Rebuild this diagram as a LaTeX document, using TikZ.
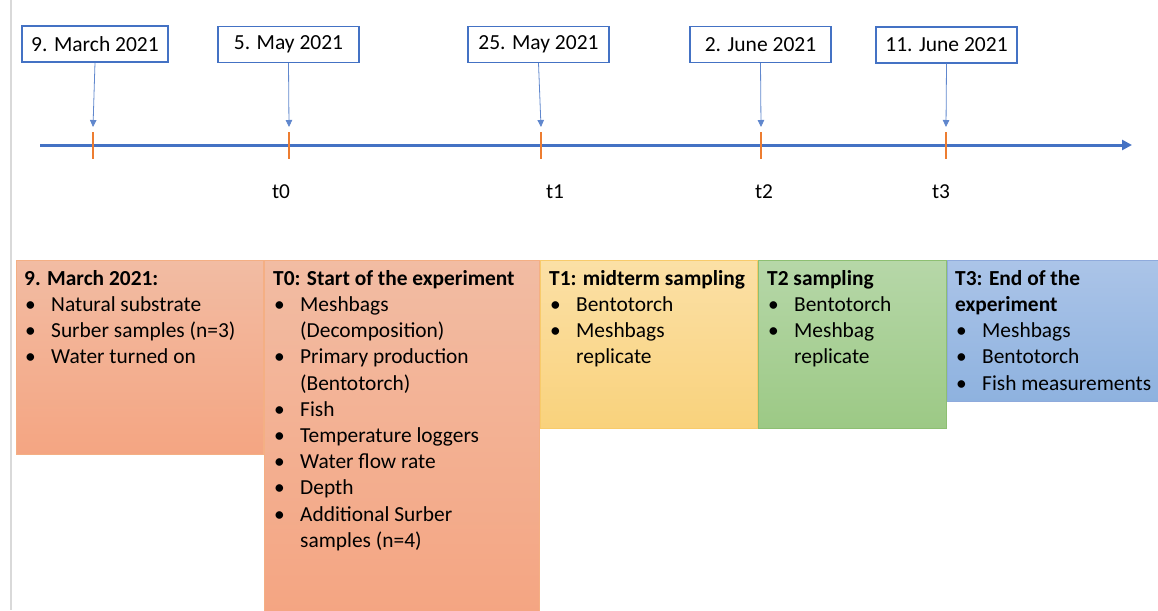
\documentclass[tikz,border=0pt]{standalone}
\usepackage{fontspec}
\setmainfont{Carlito}
\usetikzlibrary{arrows.meta,positioning}

\definecolor{axisblue}{HTML}{4472C4}
\definecolor{tickorange}{HTML}{ED7D31}
\definecolor{orangetop}{HTML}{F2BCA3}
\definecolor{orangebot}{HTML}{F4A582}
\definecolor{orangeline}{HTML}{F4AF84}
\definecolor{yellowtop}{HTML}{FBE0A6}
\definecolor{yellowbot}{HTML}{F9D27C}
\definecolor{yellowline}{HTML}{F8CB6B}
\definecolor{greentop}{HTML}{B6D7A8}
\definecolor{greenbot}{HTML}{9CC985}
\definecolor{greenline}{HTML}{8DBF72}
\definecolor{bluetop}{HTML}{ABC4E8}
\definecolor{bluebot}{HTML}{8EB2DF}
\definecolor{blueline}{HTML}{8FAADC}

\newcommand{\bul}{\makebox[27pt][l]{\hspace*{1pt}\textbullet}}
\newcommand{\ind}{\makebox[27pt]{}}

\begin{document}
\begin{tikzpicture}[x=1pt,y=-1pt,
    datebox/.style={draw=axisblue,line width=1.1pt,minimum width=141pt,
      minimum height=36pt,inner sep=0pt,font=\fontsize{21.5}{26}\selectfont},
    datearrow/.style={axisblue!85,line width=0.8pt,-{Triangle[width=6.5pt,length=7pt]}},
    tickmark/.style={tickorange,line width=1.3pt},
    tlabel/.style={font=\fontsize{21.3}{26}\selectfont},
    phase/.style={anchor=north west,inner sep=0pt,line width=0.9pt},
    phasetext/.style={anchor=north west,inner sep=0pt,align=left,
      font=\fontsize{21.4}{26.2}\selectfont}]
  \useasboundingbox (0,0) rectangle (1158,610);
  % 0) page edge on the left
  \draw[black!15,line width=1.5pt] (11,0) -- (11,610);
  % 1) time axis with its ticks
  \coordinate (axstart) at (40,145);
  \coordinate (axend) at (1132,145);
  \draw[axisblue,line width=3pt,-{Triangle[width=10pt,length=10pt]}] (axstart) -- (axend);
  \foreach \name/\x in {m/93,a/289,b/541,c/761,d/946}{
    \draw[tickmark] (\x,132) -- (\x,159);
    \coordinate (tip\name) at (\x,127);
  }
  % 2) dates above the axis
  \node[datebox,minimum width=146pt] (dm) at (95,44) {9. March 2021};
  \node[datebox] (da) at (288.5,44.5) {5. May 2021};
  \node[datebox] (db) at (538.5,44.5) {25. May 2021};
  \node[datebox] (dc) at (760.5,44.5) {2. June 2021};
  \node[datebox] (dd) at (946.5,45) {11. June 2021};
  \draw[datearrow] (dm.south) -- (tipm);
  \draw[datearrow] (da.south) -- (tipa);
  \draw[datearrow] (db.south) -- (tipb);
  \draw[datearrow] (dc.south) -- (tipc);
  \draw[datearrow] (dd.south) -- (tipd);
  % 3) sampling times below the axis
  \node[tlabel] (t0) at (281,192) {t0};
  \node[tlabel] (t1) at (555,192) {t1};
  \node[tlabel] (t2) at (764,192) {t2};
  \node[tlabel] (t3) at (941,192) {t3};
  % 4) coloured boxes with what was done
  \node[phase,minimum width=247pt,minimum height=194pt,draw=orangeline,
    top color=orangetop,bottom color=orangebot] (pm) at (16,260) {};
  \node[phase,minimum width=275pt,minimum height=352pt,draw=orangeline,
    top color=orangetop,bottom color=orangebot] (pa) at (264,260) {};
  \node[phase,minimum width=217pt,minimum height=168pt,draw=yellowline,
    top color=yellowtop,bottom color=yellowbot] (pb) at (540,260) {};
  \node[phase,minimum width=188pt,minimum height=168pt,draw=greenline,
    top color=greentop,bottom color=greenbot] (pc) at (758,260) {};
  \node[phase,minimum width=214pt,minimum height=141pt,draw=blueline,
    top color=bluetop,bottom color=bluebot] (pd) at (947,260) {};
  % 5) texts inside the boxes
  \node[phasetext] (xm) at ([shift={(8,10)}]pm.north west) {%
    \textbf{9. March 2021:}\\
    \bul Natural substrate\\
    \bul Surber samples (n=3)\\
    \bul Water turned on};
  \node[phasetext] (xa) at ([shift={(9,10)}]pa.north west) {%
    \textbf{T0: Start of the experiment}\\
    \bul Meshbags\\
    \ind (Decomposition)\\
    \bul Primary production\\
    \ind (Bentotorch)\\
    \bul Fish\\
    \bul Temperature loggers\\
    \bul Water flow rate\\
    \bul Depth\\
    \bul Additional Surber\\
    \ind samples (n=4)};
  \node[phasetext] (xb) at ([shift={(9,10)}]pb.north west) {%
    \textbf{T1: midterm sampling}\\
    \bul Bentotorch\\
    \bul Meshbags\\
    \ind replicate};
  \node[phasetext] (xc) at ([shift={(9,10)}]pc.north west) {%
    \textbf{T2 sampling}\\
    \bul Bentotorch\\
    \bul Meshbag\\
    \ind replicate};
  \node[phasetext] (xd) at ([shift={(8,10)}]pd.north west) {%
    \textbf{T3: End of the}\\
    \textbf{experiment}\\
    \bul Meshbags\\
    \bul Bentotorch\\
    \bul Fish measurements};
\end{tikzpicture}
\end{document}
